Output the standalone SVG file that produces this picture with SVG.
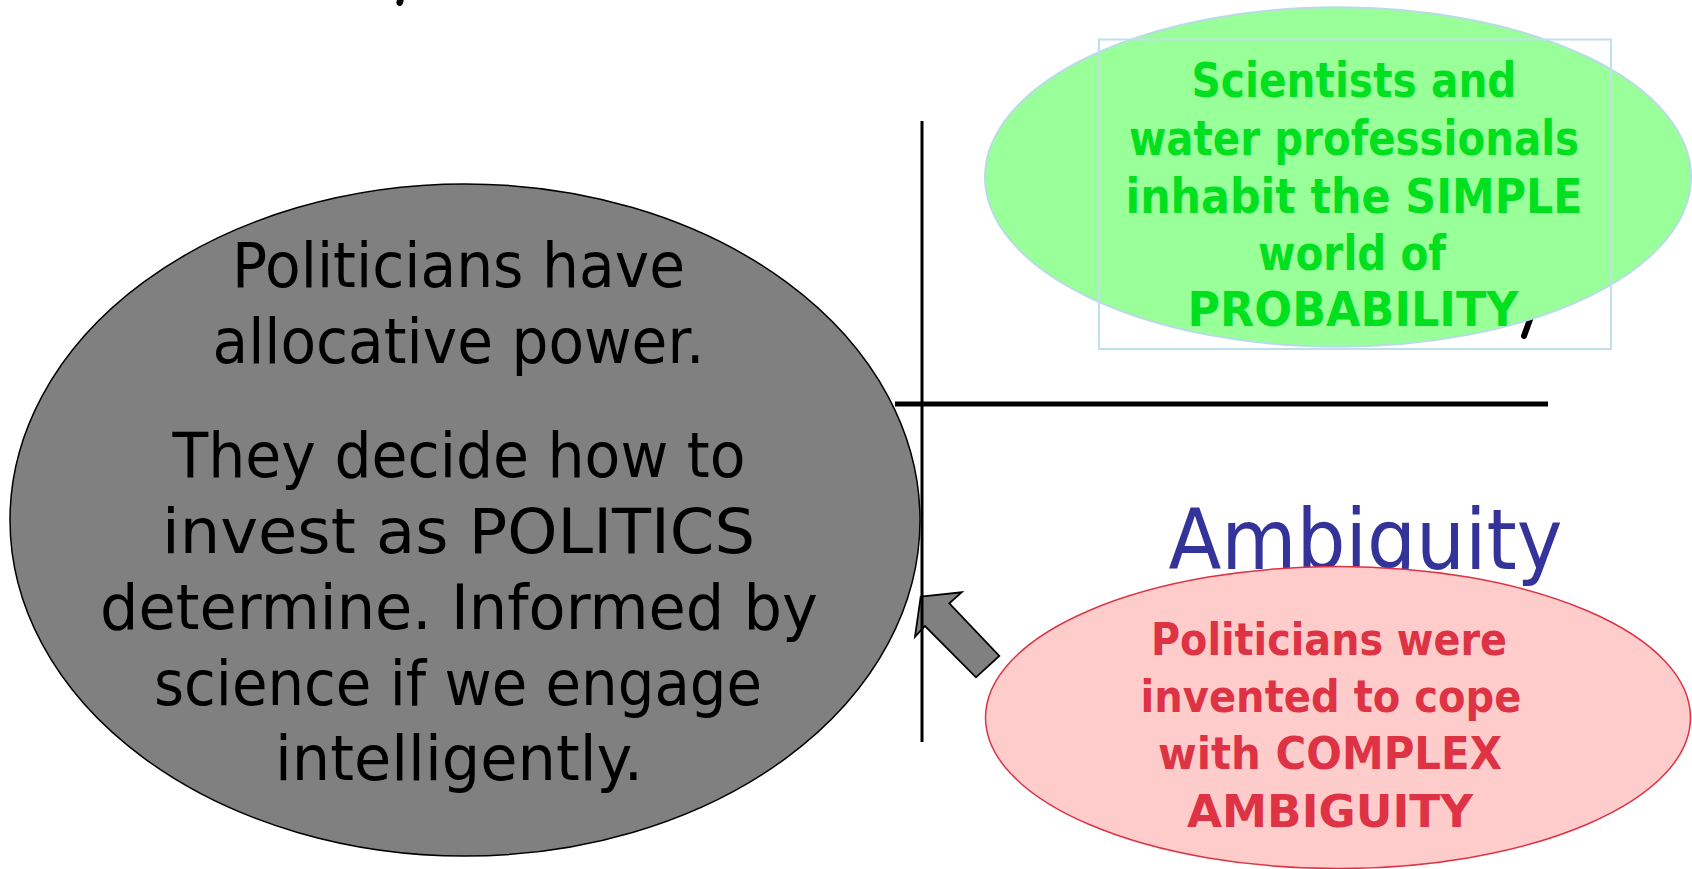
<svg xmlns="http://www.w3.org/2000/svg" width="1692" height="869" viewBox="0 0 1692 869">
<style>
.gt{font-family:"DejaVu Sans",sans-serif;font-size:62px;fill:#000;text-anchor:middle}
.grn{font-family:"DejaVu Sans",sans-serif;font-weight:bold;font-size:48px;fill:#00E01E;text-anchor:middle}
.pnk{font-family:"DejaVu Sans",sans-serif;font-weight:bold;font-size:45px;fill:#DD3344;text-anchor:middle}
.amb{font-family:"DejaVu Sans",sans-serif;font-size:84px;fill:#333399;text-anchor:middle}
.ax{stroke:#000;fill:none}
</style>
<rect width="1692" height="869" fill="#fff"/>
<!-- fragments of hidden black text -->
<ellipse cx="400" cy="1.5" rx="3.3" ry="4.5" transform="rotate(20 400 1.5)" fill="#000"/>
<path d="M1537 300 L1524 336" stroke="#000" stroke-width="6" stroke-linecap="round"/>
<g id="node-scientists">
<ellipse cx="1338" cy="177" rx="353" ry="169.7" fill="#99FF99" stroke="#B8DCE4" stroke-width="2"/>
<rect x="1099" y="39.5" width="512" height="309.5" fill="none" stroke="#BFE0E8" stroke-width="2"/>
<text class="grn"><tspan x="1354" y="97" textLength="325" lengthAdjust="spacingAndGlyphs">Scientists and</tspan><tspan x="1354" y="155.4" textLength="450" lengthAdjust="spacingAndGlyphs">water professionals</tspan><tspan x="1354" y="212.6" textLength="457" lengthAdjust="spacingAndGlyphs">inhabit the SIMPLE</tspan><tspan x="1352" y="269.8" textLength="188" lengthAdjust="spacingAndGlyphs">world of</tspan><tspan x="1353" y="326" textLength="331" lengthAdjust="spacingAndGlyphs">PROBABILITY</tspan></text>
</g>
<g id="node-politicians">
<ellipse cx="465" cy="520" rx="455" ry="336" fill="#808080" stroke="#000" stroke-width="1.5"/>
<text class="gt"><tspan x="458.5" y="287" textLength="453" lengthAdjust="spacingAndGlyphs">Politicians have</tspan><tspan x="458.5" y="362.5" textLength="492" lengthAdjust="spacingAndGlyphs">allocative power.</tspan><tspan x="459" y="477" textLength="573" lengthAdjust="spacingAndGlyphs">They decide how to</tspan><tspan x="458.5" y="552.5" textLength="593" lengthAdjust="spacingAndGlyphs">invest as POLITICS</tspan><tspan x="459" y="629" textLength="718" lengthAdjust="spacingAndGlyphs">determine. Informed by</tspan><tspan x="458" y="704.5" textLength="608" lengthAdjust="spacingAndGlyphs">science if we engage</tspan><tspan x="459" y="780" textLength="368" lengthAdjust="spacingAndGlyphs">intelligently.</tspan></text>
</g>
<g id="connectors">
<polygon points="920.7,596.7 961.7,592.3 949.3,603.3 999.3,656 976,677.3 925,626 915,636.7" fill="#808080" stroke="#000" stroke-width="1.8" stroke-linejoin="miter"/>
<line class="ax" x1="922" y1="121" x2="922" y2="742" stroke-width="3"/>
<line class="ax" x1="895" y1="404" x2="1548" y2="404" stroke-width="5"/>
</g>
<g id="label-ambiguity">
<text class="amb" x="1365.5" y="568.7" textLength="394" lengthAdjust="spacingAndGlyphs">Ambiguity</text>
</g>
<g id="node-complex">
<ellipse cx="1338" cy="717.5" rx="352.5" ry="151" fill="#FFCCCC" stroke="#DD3344" stroke-width="1.5"/>
<text class="pnk"><tspan x="1329" y="655" textLength="356" lengthAdjust="spacingAndGlyphs">Politicians were</tspan><tspan x="1331" y="712" textLength="381" lengthAdjust="spacingAndGlyphs">invented to cope</tspan><tspan x="1330" y="769.4" textLength="344" lengthAdjust="spacingAndGlyphs">with COMPLEX</tspan><tspan x="1330" y="826.6" textLength="286" lengthAdjust="spacingAndGlyphs">AMBIGUITY</tspan></text>
</g>
</svg>
